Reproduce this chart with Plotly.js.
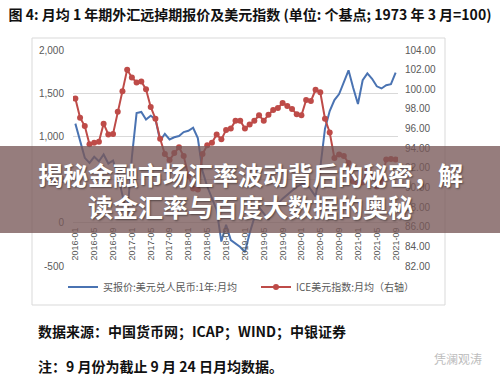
<!DOCTYPE html>
<html>
<head>
<meta charset="utf-8">
<script src="https://cdn.plot.ly/plotly-3.0.1.min.js"></script>
<style>html,body{margin:0;padding:0;background:#fff;}#chart{width:500px;height:380px;}</style>
</head>
<body>
<div id="chart"></div>
<script>
// ---- data ----
const startYear = 2016, monthCount = 69;
const months = [];
for (let k = 0; k < monthCount; k++) {
  const y = startYear + Math.floor(k / 12), m = (k % 12) + 1;
  months.push(y + '-' + (m < 10 ? '0' + m : m));
}
const xTickLabels = ['2016-01','2016-05','2016-09','2017-01','2017-05','2017-09','2018-01','2018-05','2018-09',
  '2019-01','2019-05','2019-09','2020-01','2020-05','2020-09','2021-01','2021-05','2021-09'];

// 买报价:美元兑人民币:1年:月均 (个基点, left axis)
const swapPoints = [1148, 940, 752, 694, 764, 713, 791, 686, 720, 560, 300, 80,
  760, 1270, 1283, 1195, 1240, 1200, 950, 1030, 965, 990, 1005, 1050,
  1065, 1100, 980, 600, 420, 280, 150, -217, -23, -200, -240, -280,
  -340, -120, 60, 180, 110, 35, 180, 220, 280, 320, 370, 415,
  445, 461, 384, 306, 640, 1090, 1294, 1420, 1490, 1624, 1765, 1560,
  1375, 1650, 1729, 1667, 1580, 1555, 1593, 1605, 1737];

// ICE美元指数:月均 (right axis)
const dollarIndex = [99.06, 97.1, 96.25, 94.4, 94.55, 94.65, 96.5, 95.4, 95.45, 97.7, 99.8, 102.0,
  101.2, 100.7, 100.8, 100.0, 98.2, 97.0, 94.96, 93.4, 92.8, 93.5, 94.1, 93.2,
  91.2, 89.9, 89.8, 93.4, 94.3, 94.55, 95.4, 94.9, 95.85, 96.0, 96.8, 96.8,
  96.0, 96.4, 96.8, 97.35, 96.8, 97.4, 97.9, 98.1, 98.6, 98.3, 98.0, 97.45,
  97.35, 98.9, 98.8, 99.95, 99.7, 97.0, 95.6, 93.0, 93.35, 93.2, 92.5, 90.6,
  90.3, 90.5, 91.8, 91.4, 90.1, 90.6, 92.85, 92.9, 92.85];

const leftTickVals = [-500, 0, 500, 1000, 1500, 2000];
const leftTickText = ['-500', '0', '500', '1,000', '1,500', '2,000'];
const rightTickVals = [82, 84, 86, 88, 90, 92, 94, 96, 98, 100, 102, 104];

const seriesNames = ['买报价:美元兑人民币:1年:月均', 'ICE美元指数:月均（右轴）'];
const titleText = '<b>图 4: 月均 1 年期外汇远掉期报价及美元指数 (单位: 个基点; 1973 年 3 月=100)</b>';
const bannerLines = ['揭秘金融市场汇率波动背后的秘密，解', '读金汇率与百度大数据的奥秘'];
const sourceText = '<b>数据来源：中国货币网；ICAP；WIND；中银证券</b>';
const noteText = '<b>注：9 月份为截止 9 月 24 日月均数据。</b>';
const watermarkText = '凭澜观涛';

// ---- layout helpers ----
const W = 500, H = 380;
const M = {l: 73, r: 102, t: 50, b: 114};
const PW = W - M.l - M.r, PH = H - M.t - M.b;
const px2x = px => (px - M.l) / PW;
const py2y = py => (H - M.b - py) / PH;

const cjk = '"Noto Sans CJK SC", "Noto Sans", sans-serif';
const latin = '"Liberation Sans", Arial, sans-serif';
const tickColor = '#595959';

const traces = [
  {
    x: months, y: swapPoints, name: seriesNames[0], type: 'scatter', mode: 'lines',
    line: {color: '#4A73B2', width: 2}, yaxis: 'y'
  },
  {
    x: months, y: dollarIndex, name: seriesNames[1], type: 'scatter', mode: 'lines+markers',
    line: {color: '#BE4B48', width: 2}, marker: {color: '#BE4B48', size: 6, symbol: 'circle'},
    yaxis: 'y2'
  }
];

const zeroFrac = (0 - (-500)) / (2000 - (-500));

const layout = {
  width: W, height: H,
  margin: {l: M.l, r: M.r, t: M.t, b: M.b, pad: 0},
  paper_bgcolor: '#ffffff', plot_bgcolor: 'rgba(0,0,0,0)',
  showlegend: true,
  title: {
    text: titleText, x: 0.5, xanchor: 'center', xref: 'container',
    y: 1 - 15 / H, yanchor: 'middle', yref: 'container',
    font: {family: cjk, size: 14, color: '#111111'}
  },
  xaxis: {
    type: 'category', categoryorder: 'array', categoryarray: months,
    range: [-0.5, monthCount - 0.5],
    tickmode: 'array', tickvals: xTickLabels, ticktext: xTickLabels,
    tickangle: -90, tickfont: {family: latin, size: 9, color: tickColor},
    showgrid: false, zeroline: false, showline: false, ticks: '',
    anchor: 'free', position: zeroFrac, ticklabelstandoff: 2
  },
  yaxis: {
    range: [-500, 2000], tickmode: 'array', tickvals: leftTickVals, ticktext: leftTickText,
    tickfont: {family: latin, size: 10, color: tickColor},
    showgrid: true, gridcolor: '#D9D9D9', gridwidth: 1, zeroline: false, showline: false,
    ticks: '', ticklabelstandoff: 8
  },
  yaxis2: {
    overlaying: 'y', side: 'right', range: [82, 104],
    tickmode: 'array', tickvals: rightTickVals, tickformat: '.2f',
    tickfont: {family: latin, size: 10, color: tickColor},
    showgrid: false, zeroline: false, showline: false, ticks: '', ticklabelstandoff: 6
  },
  legend: {
    orientation: 'h', x: px2x(63), xanchor: 'left', y: py2y(287), yanchor: 'middle',
    xref: 'paper', yref: 'paper',
    font: {family: cjk, size: 10, color: tickColor},
    bgcolor: 'rgba(0,0,0,0)', itemwidth: 30, entrywidth: 148, entrywidthmode: 'pixels',
    traceorder: 'normal'
  },
  shapes: [
    {type: 'rect', xref: 'paper', yref: 'paper', layer: 'below',
     x0: px2x(32), x1: px2x(445), y0: py2y(38), y1: py2y(305),
     line: {color: '#D9D9D9', width: 1}, fillcolor: 'rgba(0,0,0,0)'},
    {type: 'rect', xref: 'paper', yref: 'paper', layer: 'above',
     x0: px2x(0), x1: px2x(500), y0: py2y(146), y1: py2y(233),
     line: {width: 0}, fillcolor: 'rgba(120,88,88,0.78)'}
  ],
  annotations: [
    {text: bannerLines[0], xref: 'paper', yref: 'paper', x: px2x(250), y: py2y(174),
     xanchor: 'center', yanchor: 'middle', showarrow: false,
     font: {family: cjk, size: 25, color: '#ffffff', weight: 'bold', shadow: '1px 1px 2px rgba(0,0,0,0.45)'}},
    {text: bannerLines[1], xref: 'paper', yref: 'paper', x: px2x(250), y: py2y(206),
     xanchor: 'center', yanchor: 'middle', showarrow: false,
     font: {family: cjk, size: 25, color: '#ffffff', weight: 'bold', shadow: '1px 1px 2px rgba(0,0,0,0.45)'}},
    {text: sourceText, xref: 'paper', yref: 'paper', x: px2x(36), y: py2y(331),
     xanchor: 'left', yanchor: 'middle', showarrow: false,
     font: {family: cjk, size: 14, color: '#111111'}},
    {text: noteText, xref: 'paper', yref: 'paper', x: px2x(36), y: py2y(366),
     xanchor: 'left', yanchor: 'middle', showarrow: false,
     font: {family: cjk, size: 14, color: '#111111'}},
    {text: watermarkText, xref: 'paper', yref: 'paper', x: px2x(484), y: py2y(358),
     xanchor: 'right', yanchor: 'middle', showarrow: false,
     font: {family: cjk, size: 12, color: '#BDBDBD'}}
  ]
};

Plotly.newPlot('chart', traces, layout, {displayModeBar: false, staticPlot: true});
</script>
</body>
</html>
